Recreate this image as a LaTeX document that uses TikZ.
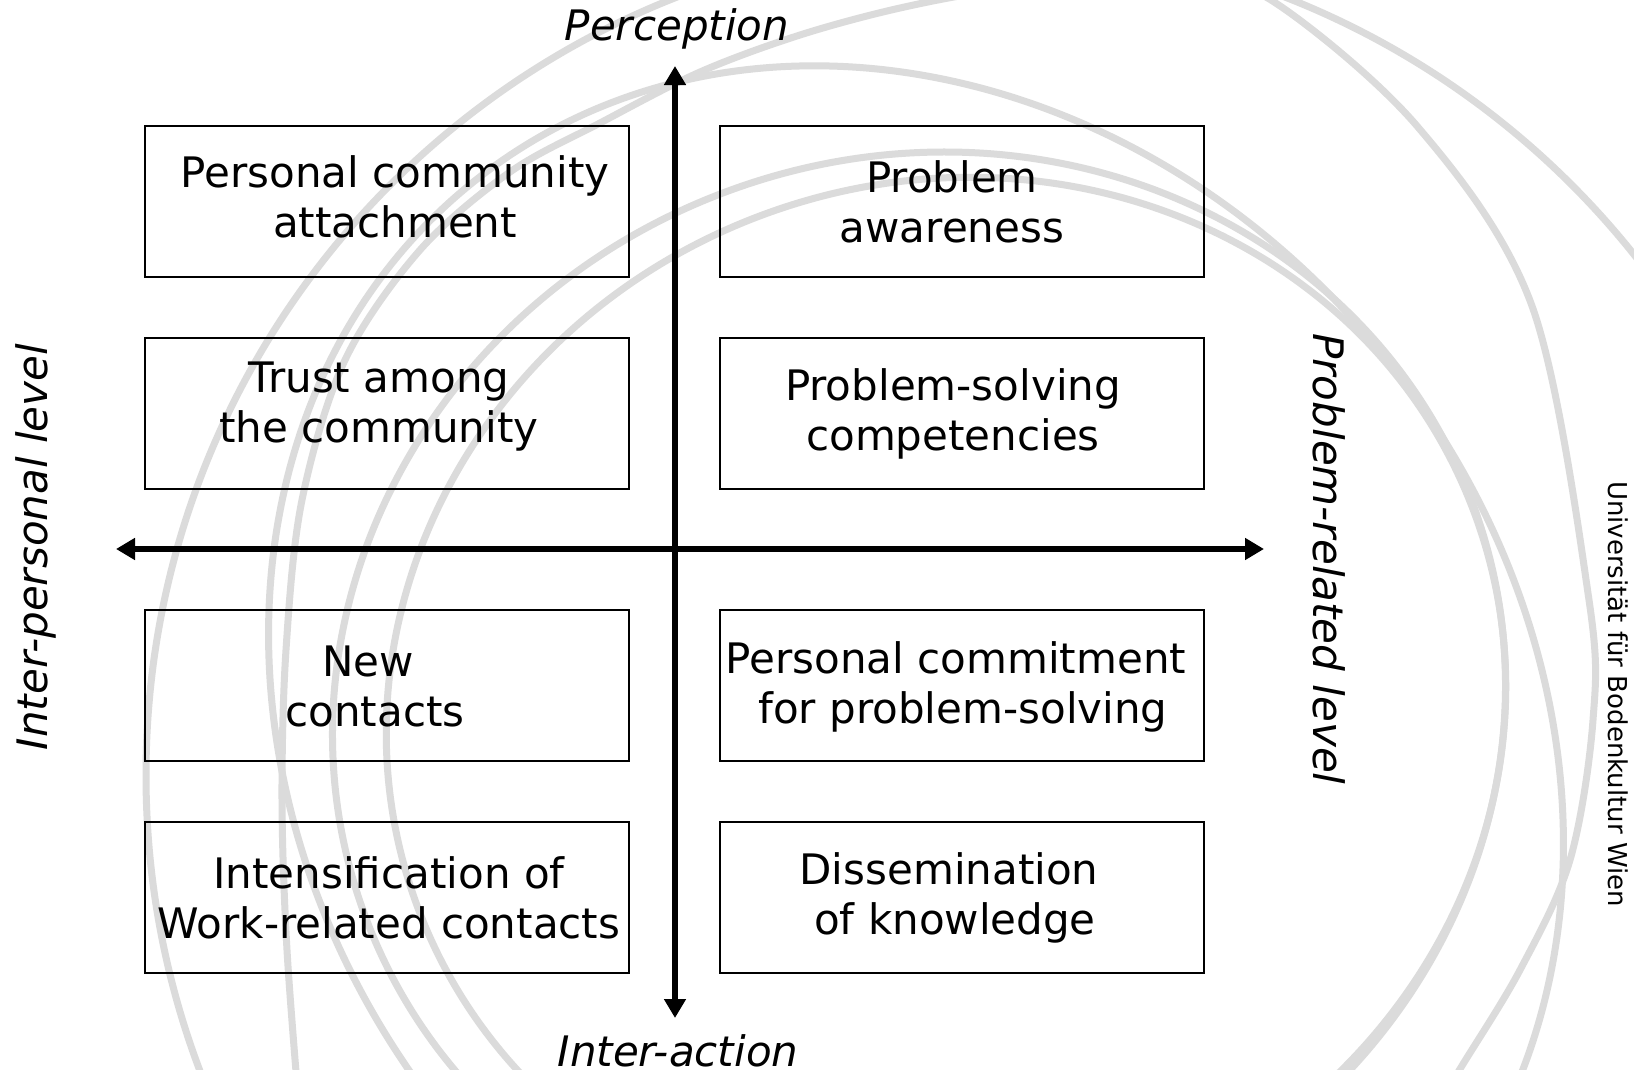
\documentclass[tikz,border=0pt]{standalone}
\usepackage{fontspec}
\setmainfont{DejaVu Sans}[ItalicFont={DejaVu Sans Oblique}]
\usetikzlibrary{arrows.meta}
\tikzset{
  logo/.style={draw=black!14, line width=7pt},
  qbox/.style={draw, line width=2pt, minimum width=484pt, minimum height=151pt, inner sep=0pt},
  qtext/.style={font=\fontsize{42}{50}\selectfont, align=center, inner sep=0pt},
  axlabel/.style={font=\fontsize{42}{50}\selectfont\itshape, inner sep=0pt, anchor=base},
  axis/.style={line width=6pt, {Triangle[length=19pt,width=21pt]}-{Triangle[length=19pt,width=21pt]}},
}
\begin{document}
\begin{tikzpicture}[x=1pt,y=-1pt]
\useasboundingbox (0,0) rectangle (1634,1069);
\fill[white] (0,0) rectangle (1634,1069);
\begin{scope}
  \clip (0,0) rectangle (1634,1069);
  % outer circle
  \draw[logo] (981,775) circle[radius=835pt];
  % Q
  \draw[logo, rotate around={-52:(916,739)}] (916,739) ellipse[x radius=711.5pt, y radius=605pt];
  % R
  \draw[logo, rotate around={20.7:(919,710)}] (919,710) ellipse[x radius=591pt, y radius=553pt];
  % S
  \draw[logo, rotate around={20.7:(946,710)}] (946,710) ellipse[x radius=564pt, y radius=528pt];
  % B
  \draw[logo] plot[smooth, tension=0.55] coordinates {(300,1120) (287,950) (282,800) (286,650) (302,500) (345,360) (420,250) (510,172) (600,123) (700,72) (800,35) (900,8) (1000,-10) (1100,-14) (1200,-10) (1271,0) (1417,126) (1532,306) (1589,600) (1593,720) (1570,860) (1520,970) (1460,1069) (1430,1120)};
\end{scope}

% boxes
\node[qbox] (b1) at (387,201.5) {};
\node[qbox] (b2) at (962,201.5) {};
\node[qbox] (b3) at (387,413.5) {};
\node[qbox] (b4) at (962,413.5) {};
\node[qbox] (b5) at (387,685.5) {};
\node[qbox] (b6) at (962,685.5) {};
\node[qbox] (b7) at (387,897.5) {};
\node[qbox] (b8) at (962,897.5) {};

\node[qtext] (t1) at (395,197) {Personal community\\attachment};
\node[qtext] (t2) at (952,202) {Problem\\awareness};
\node[qtext] (t3) at (379,407) {Trust among\\the community};
\node[qtext] (t4) at (953,414) {Problem-solving\\competencies};
\node[qtext] (t5) at (371.5,686) {New\hspace*{7pt}\\\hspace*{7pt}contacts};
\node[qtext] (t6) at (959.5,687) {Personal commitment\hspace*{7pt}\\\hspace*{7pt}for problem-solving};
\node[qtext] (t7) at (389,898) {Intensification of\\Work-related contacts};
\node[qtext] (t8) at (952,898) {Dissemination\hspace*{6pt}\\\hspace*{6pt}of knowledge};

% axes
\coordinate (top) at (675,66);
\coordinate (bot) at (675,1018);
\coordinate (lft) at (116,549);
\coordinate (rgt) at (1264,549);
\draw[axis] (bot) -- (top);
\draw[axis] (lft) -- (rgt);

% axis labels
\node[axlabel] (perc) at (677,40) {Perception};
\node[axlabel] (inter) at (678,1066) {Inter-action};
\node[axlabel, rotate=90] (ipl) at (47,547) {Inter-personal level};
\node[axlabel, rotate=-90] (prl) at (1313,559) {Problem-related level};
\node[font=\fontsize{26}{30}\selectfont, inner sep=0pt, anchor=base, rotate=-90] (uni) at (1608,694) {Universität für Bodenkultur Wien};
\end{tikzpicture}
\end{document}
